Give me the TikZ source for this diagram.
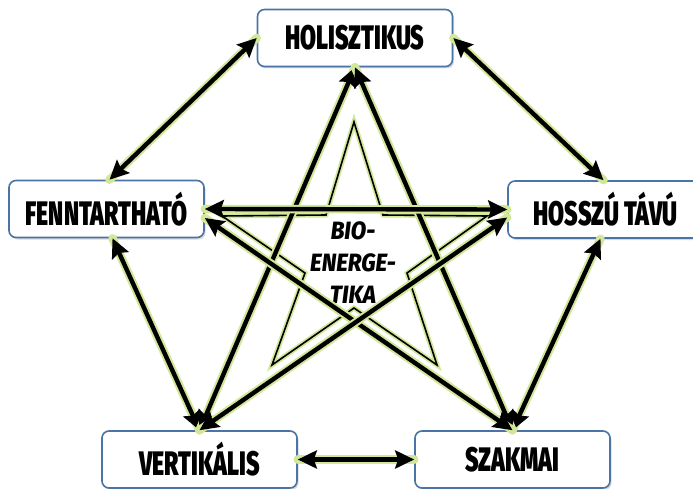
\documentclass[tikz,border=0pt]{standalone}
\usepackage{fontspec}
\usetikzlibrary{arrows.meta, shadows}
\newfontfamily\boxfont[UprightFont={* Black}, FakeStretch=0.68]{Fira Sans}
\newfontfamily\starfont[UprightFont={* ExtraBold Italic}, FakeStretch=0.9]{Fira Sans}
\definecolor{BoxBorder}{HTML}{4A74A6}
\definecolor{GlowColor}{HTML}{D2E79A}
\definecolor{TextDark}{HTML}{000000}

\begin{document}
\begin{tikzpicture}[
        x=1pt, y=-1pt,
        box/.style={rectangle, draw=BoxBorder, line width=1.6pt, fill=white, rounded corners=7pt, minimum width=195pt, minimum height=57pt, inner sep=0pt, align=center, font=\boxfont\fontsize{34}{36}\selectfont, text=TextDark, drop shadow={shadow xshift=1.5pt, shadow yshift=-2pt, opacity=0.3}},
        arr/.style={{Stealth[length=19pt,width=18pt,inset=3pt]}-{Stealth[length=19pt,width=18pt,inset=3pt]}, line width=4.4pt, black, preaction={draw=GlowColor, line width=8.5pt, -, line cap=round}},
        starline/.style={line width=1.6pt, black, line join=miter, preaction={draw=GlowColor, line width=5pt}},
        centre/.style={align=center, font=\starfont\fontsize{25}{32}\selectfont, text=TextDark}
      ]
        \useasboundingbox (0,0) rectangle (693,489);
        \clip (0,0) rectangle (693,489);

        % Nodes
        \node[box] (hol) at (355,38) {HOLISZTIKUS};
        \node[box] (fenn) at (106.5,209) {FENNTARTHATÓ};
        \node[box] (hossz) at (605.5,209.5) {HOSSZÚ TÁVÚ};
        \node[box] (vert) at (199.5,459.5) {VERTIKÁLIS};
        \node[box] (szak) at (512.5,459.5) {SZAKMAI};

        % Star outline
        \draw[starline] (354,122) -- (383,215) -- (487,216) -- (407,273) -- (437,365)
          -- (354,308) -- (272,365) -- (305,273) -- (222,216) -- (326,215) -- cycle;
        \node[centre] (bio) at (353,263) {BIO-\\ENERGE-\\TIKA};

        % Connections
        \draw[arr] (hol.west) -- ([xshift=3pt]fenn.north);
        \draw[arr] (hol.east) -- ([xshift=-2pt]hossz.north);
        \draw[arr] ([xshift=6pt]fenn.south) -- (vert.north);
        \draw[arr] ([xshift=-5pt]hossz.south) -- (szak.north);
        \draw[arr] (vert.east) -- (szak.west);
        \draw[arr] (hol.south) -- (vert.north);
        \draw[arr] (hol.south) -- (szak.north);
        \draw[arr] (fenn.east) -- (hossz.west);
        \draw[arr] ([yshift=-9pt]fenn.east) -- (szak.north);
        \draw[arr] ([yshift=-8pt]hossz.west) -- (vert.north);
      \end{tikzpicture}
\end{document}
